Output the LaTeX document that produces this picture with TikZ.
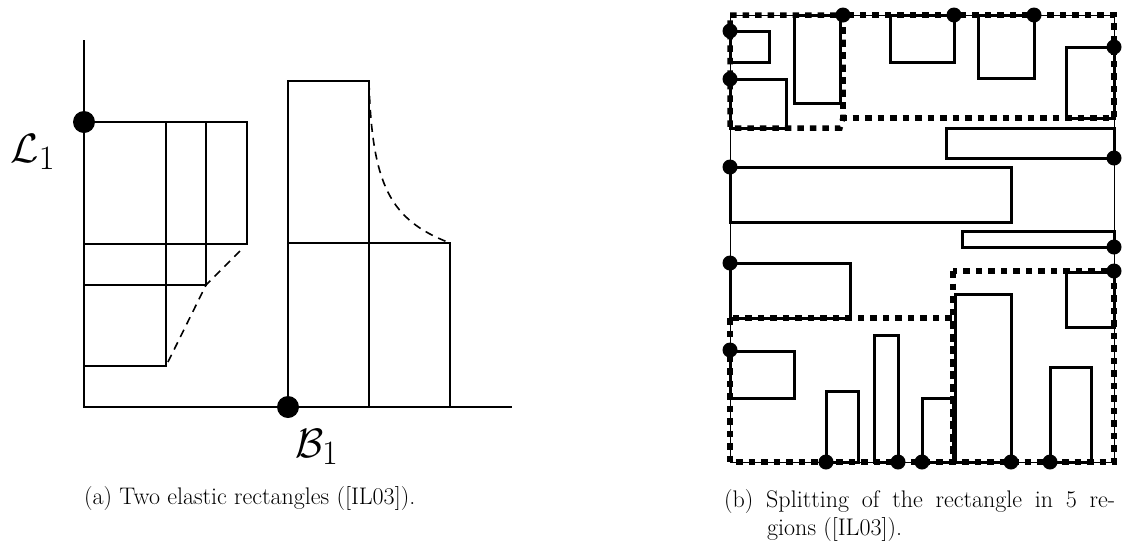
\documentclass[tikz,border=0pt]{standalone}
\usepackage{amsmath,amssymb}
\usepackage{fontspec}
\setmainfont{Latin Modern Roman}
\usepackage{tikz}
\usetikzlibrary{positioning}

\begin{document}
\begin{tikzpicture}[x=1pt, y=-1pt,
    thinline/.style={line width=1.6pt},
    boxline/.style={line width=3pt},
    region/.style={line width=5.5pt, dash pattern=on 6.5pt off 6pt},
    caption/.style={font=\fontsize{24}{29}\selectfont, inner sep=0pt}]
\useasboundingbox (0,0) rectangle (1128,542);
% (a) two elastic rectangles
\draw[thinline] (84,40) -- (84,407) -- (512,407);
\draw[thinline] (84,122) rectangle (247,244);
\draw[thinline] (84,122) rectangle (206,285);
\draw[thinline] (84,122) rectangle (166,366);
\draw[thinline] (288,81) rectangle (369,407);
\draw[thinline] (288,243) rectangle (450,407);
\draw[thinline, dash pattern=on 8pt off 6pt] (240,251) -- (206,285) -- (166,366);
\draw[thinline, dash pattern=on 8pt off 6pt] (369,82) .. controls (372,185) and (390,220) .. (450,243);
\fill (84,122) circle (11pt);
\fill (288,407) circle (11pt);
\node[font=\Huge, scale=1.65] (lone) at (33,152) {$\mathcal{L}_1$};
\node[font=\Huge, scale=1.65] (bone) at (317,447) {$\mathcal{B}_1$};
\node[caption, anchor=west] (capa) at (84,499) {(a) Two elastic rectangles ([IL03]).};
% (b) splitting in regions
\draw[line width=0.8pt] (730,15) rectangle (1114,462);
\draw[boxline] (730,31) rectangle (769,62);
\draw[boxline] (730,79) rectangle (786,128);
\draw[boxline] (794,15) rectangle (840,103);
\draw[boxline] (890,15) rectangle (954,62);
\draw[boxline] (978,15) rectangle (1034,78);
\draw[boxline] (1066,47) rectangle (1114,118);
\draw[boxline] (946,128) rectangle (1114,158);
\draw[boxline] (730,167) rectangle (1011,222);
\draw[boxline] (962,231) rectangle (1114,247);
\draw[boxline] (730,263) rectangle (850,318);
\draw[boxline] (730,351) rectangle (794,398);
\draw[boxline] (826,391) rectangle (858,462);
\draw[boxline] (874,335) rectangle (898,462);
\draw[boxline] (922,398) rectangle (953,462);
\draw[boxline] (955,294) rectangle (1011,462);
\draw[boxline] (1066,272) rectangle (1114,327);
\draw[boxline] (1050,367) rectangle (1091,462);
\draw[region] (730,15) -- (843,15) -- (843,118) -- (840,128) -- (730,128) -- cycle;
\draw[region] (843,15) rectangle (1114,118);
\draw[region] (730,318) rectangle (953,462);
\draw[region] (953,271) rectangle (1114,462);
\foreach \p in {(730,31),(730,79),(843,15),(954,15),(1034,15),(1114,47),
                (1114,158),(730,167),(1114,247),(730,263),(1114,271),(730,350),
                (826,462),(898,462),(922,462),(1011,462),(1050,462)}
    \fill \p circle (7.5pt);
\node[caption, anchor=west] (capb) at (724,502)
    {\makebox[391pt][s]{(b) Splitting of the rectangle in 5 re-}};
\node[caption, anchor=west] (capc) at (767,530) {gions ([IL03]).};
\end{tikzpicture}
\end{document}
